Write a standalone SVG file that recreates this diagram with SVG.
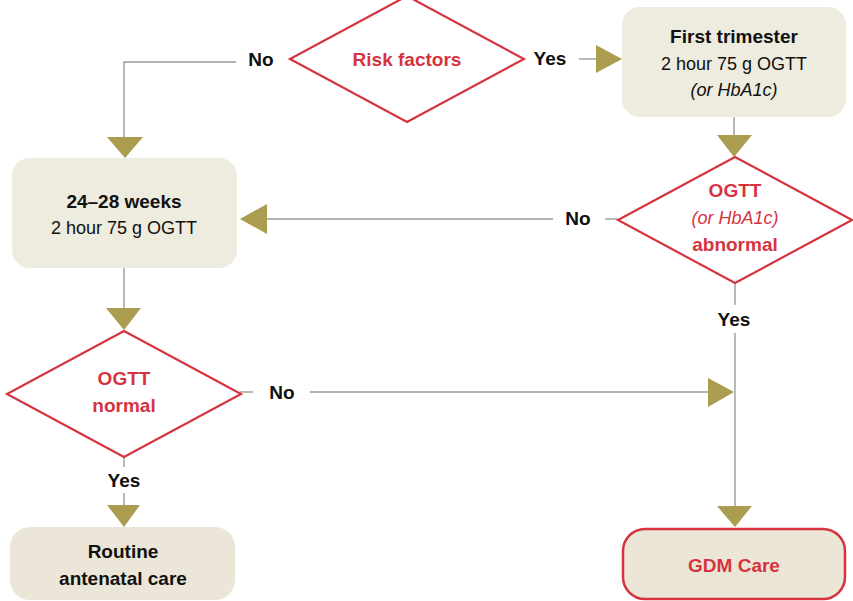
<svg xmlns="http://www.w3.org/2000/svg" width="853" height="601" viewBox="0 0 853 601">
<style>
.box{fill:#eeebdf;stroke:none}
.dia{fill:#fff;stroke:#d6333f;stroke-width:2.2}
.ln{fill:none;stroke:#9a9a9a;stroke-width:1.4}
.arr{fill:#ab9d4f;stroke:none}
text{font-family:"Liberation Sans",Arial,sans-serif;text-anchor:middle}
.b{font-weight:bold;font-size:19px;fill:#111}
.r{font-size:18px;fill:#111}
.i{font-style:italic}
.red{fill:#d6333f}
.lbl{font-weight:bold;font-size:19px;fill:#111}
</style>
<rect width="853" height="601" fill="#fff"/>
<g id="connectors">
  <polyline class="ln" points="236,62 124,62 124,140"/>
  <polygon class="arr" points="107,137 143,137 125,158"/>
  <line class="ln" x1="579" y1="59" x2="598" y2="59"/>
  <polygon class="arr" points="596,45 622,59 596,73"/>
  <line class="ln" x1="734" y1="117" x2="734" y2="137"/>
  <polygon class="arr" points="717,135 752,135 734,157"/>
  <line class="ln" x1="605" y1="219" x2="618" y2="219"/>
  <line class="ln" x1="265" y1="219" x2="553" y2="219"/>
  <polygon class="arr" points="267,204 240,219 267,234"/>
  <line class="ln" x1="124" y1="268" x2="124" y2="310"/>
  <polygon class="arr" points="106,308 141,308 124,330"/>
  <line class="ln" x1="735" y1="283" x2="735" y2="305"/>
  <line class="ln" x1="735" y1="333" x2="735" y2="508"/>
  <polygon class="arr" points="717,506 752,506 735,527"/>
  <line class="ln" x1="240" y1="392" x2="253" y2="392"/>
  <line class="ln" x1="310" y1="392" x2="710" y2="392"/>
  <polygon class="arr" points="708,378 734,392 708,407"/>
  <line class="ln" x1="124" y1="457" x2="124" y2="467"/>
  <line class="ln" x1="124" y1="493" x2="124" y2="507"/>
  <polygon class="arr" points="107,505 140,505 124,527"/>
  <text class="lbl" x="261" y="66">No</text>
  <text class="lbl" x="550" y="65">Yes</text>
  <text class="lbl" x="578" y="225">No</text>
  <text class="lbl" x="734" y="326">Yes</text>
  <text class="lbl" x="282" y="399">No</text>
  <text class="lbl" x="124" y="487">Yes</text>
</g>
<g id="risk-factors">
  <polygon class="dia" points="407,-4 524,59 407,122 290,59"/>
  <text class="b red" x="407" y="66">Risk factors</text>
</g>
<g id="first-trimester">
  <rect class="box" x="622" y="7" width="224" height="110" rx="18"/>
  <text class="b" x="734" y="43">First trimester</text>
  <text class="r" x="734" y="70">2 hour 75 g OGTT</text>
  <text class="r i" x="734" y="96">(or HbA1c)</text>
</g>
<g id="ogtt-abnormal">
  <polygon class="dia" points="735,157 852,220 735,283 618,220"/>
  <text class="b red" x="735" y="197">OGTT</text>
  <text class="r i red" x="735" y="224">(or HbA1c)</text>
  <text class="b red" x="735" y="251">abnormal</text>
</g>
<g id="weeks-24-28">
  <rect class="box" x="12" y="158" width="225" height="110" rx="18"/>
  <text class="b" x="124" y="208">24–28 weeks</text>
  <text class="r" x="124" y="234">2 hour 75 g OGTT</text>
</g>
<g id="ogtt-normal">
  <polygon class="dia" points="124,331 241,394 124,457 7,394"/>
  <text class="b red" x="124" y="385">OGTT</text>
  <text class="b red" x="124" y="412">normal</text>
</g>
<g id="routine-care">
  <rect class="box" x="10" y="527" width="225" height="73" rx="20" style="fill:#ebe6d8"/>
  <text class="b" x="123" y="558">Routine</text>
  <text class="b" x="123" y="585">antenatal care</text>
</g>
<g id="gdm-care">
  <rect x="623" y="529" width="222" height="70" rx="22" fill="#ece6d6" stroke="#d6333f" stroke-width="2.5"/>
  <text class="b red" x="734" y="572">GDM Care</text>
</g>
</svg>
